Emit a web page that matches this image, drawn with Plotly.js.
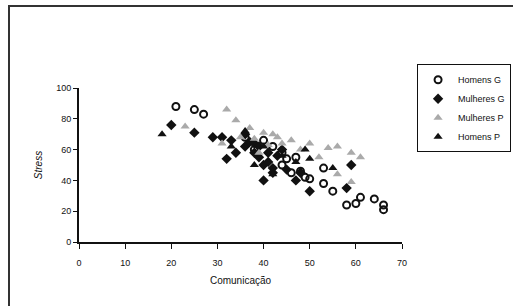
<!DOCTYPE html>
<html><head><meta charset="utf-8">
<script src="https://cdn.plot.ly/plotly-3.0.1.min.js"></script>
<style>
html,body{margin:0;padding:0;background:#fff;}
#frame{position:absolute;left:8px;top:5px;width:520px;height:320px;border-left:2px solid #333;border-top:2px solid #333;pointer-events:none;z-index:5;}
#chart{position:absolute;left:0;top:0;width:513px;height:306px;}
</style></head>
<body>
<div id="chart"></div>
<div id="frame"></div>
<script>
// Homens G (open markers)
var homensGX = [21,25,27,36,38,40,42,44,44,45,46,47,48,49,50,53,53,55,58,60,61,64,66,66];
var homensGY = [88,86,83,68,60,66,62,58,50,54,45,55,46,42,41,48,38,33,24,25,29,28,24,21];
// Mulheres G (filled diamonds)
var mulheresGX = [20,25,29,31,33,34,32,36,36,37,38,38,39,39,40,40,41,41,42,42,43,44,45,47,48,50,58,59];
var mulheresGY = [76,71,68,68,66,58,54,62,70,65,58,64,55,62,50,40,52,58,48,45,56,60,47,40,45,33,35,50];
// Mulheres P (grey triangles)
var mulheresPX = [23,31,32,34,35,37,38,39,40,41,42,43,44,46,48,50,52,54,56,56,59,59,61];
var mulheresPY = [75,64,86,79,68,74,67,58,71,63,70,68,64,66,60,64,55,61,62,44,58,39,55];
// Homens P (black triangles)
var homensPX = [18,33,36,38,40,42,44,47,49,50,55];
var homensPY = [70,62,72,50,62,44,56,52,60,54,48];

var traces = [
  {x: homensGX, y: homensGY, name: 'Homens G', type: 'scatter', mode: 'markers',
   marker: {symbol: 'circle-open', size: 7, color: '#111', line: {width: 2, color: '#111'}}},
  {x: mulheresGX, y: mulheresGY, name: 'Mulheres G', type: 'scatter', mode: 'markers',
   marker: {symbol: 'diamond', size: 8, color: '#111'}},
  {x: mulheresPX, y: mulheresPY, name: 'Mulheres P', type: 'scatter', mode: 'markers',
   marker: {symbol: 'triangle-up', size: 8, color: '#aaaaaa'}},
  {x: homensPX, y: homensPY, name: 'Homens P', type: 'scatter', mode: 'markers',
   marker: {symbol: 'triangle-up', size: 8, color: '#111'}}
];

var layout = {
  width: 513, height: 306,
  margin: {l: 79, r: 111, t: 88, b: 64},
  paper_bgcolor: '#fff', plot_bgcolor: '#fff',
  font: {family: 'Liberation Sans, Arial, sans-serif', size: 9, color: '#111'},
  showlegend: true,
  legend: {xref: 'container', yref: 'container', x: 0.813, xanchor: 'left', y: 0.79, yanchor: 'top',
           bordercolor: '#111', borderwidth: 1, bgcolor: '#fff',
           font: {size: 9, color: '#111'}, tracegroupgap: 0, itemwidth: 30},
  xaxis: {range: [0, 70], tickvals: [0,10,20,30,40,50,60,70], showgrid: false, zeroline: false,
          showline: true, linecolor: '#111', linewidth: 2, ticks: 'outside', ticklen: 5,
          tickcolor: '#111', tickwidth: 1, ticklabelstandoff: 6,
          title: {text: 'Comunicação', font: {size: 10}, standoff: 10}},
  yaxis: {range: [0, 100], tickvals: [0,20,40,60,80,100], showgrid: false, zeroline: false,
          showline: true, linecolor: '#111', linewidth: 2, ticks: 'outside', ticklen: 4,
          tickcolor: '#111', tickwidth: 1,
          title: {text: '<i>Stress</i>', font: {size: 10}, standoff: 12}}
};
Plotly.newPlot('chart', traces, layout, {displayModeBar: false, staticPlot: true});
</script>
</body></html>
